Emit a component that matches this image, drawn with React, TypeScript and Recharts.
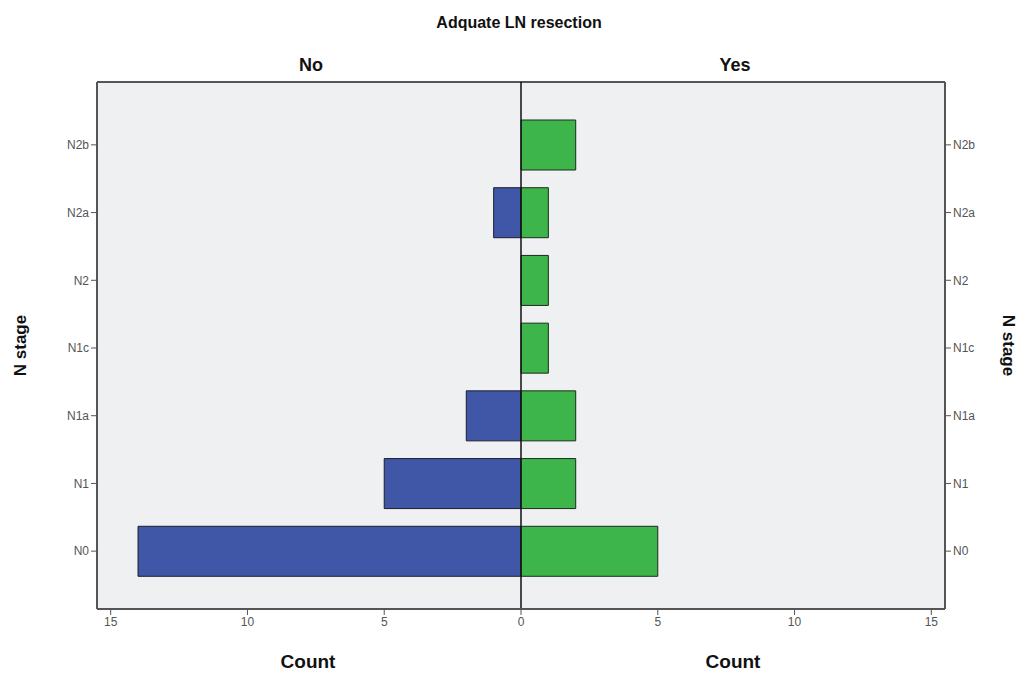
import { BarChart, Bar, XAxis, YAxis, CartesianGrid, ReferenceLine, Label } from "recharts";

const stages = ["N2b", "N2a", "N2", "N1c", "N1a", "N1", "N0"];
const countNo = [0, 1, 0, 0, 2, 5, 14];
const countYes = [2, 1, 1, 1, 2, 2, 5];
const xTicks = [-15, -10, -5, 0, 5, 10, 15];

const data = stages.map((stage, i) => ({
  stage,
  no: -countNo[i],
  yes: countYes[i],
}));

const FONT = "'Liberation Sans', Arial, sans-serif";

const headStyle = (x: number, y: number, size: number): React.CSSProperties => ({
  position: "absolute",
  left: x,
  top: y,
  transform: "translate(-50%, -50%)",
  fontFamily: FONT,
  fontWeight: "bold",
  fontSize: size,
  color: "#111",
  whiteSpace: "nowrap",
});

export default function App() {
  const axisStroke = "#555";
  const tick = { fill: "#555", fontSize: 12, fontFamily: FONT };

  return (
    <div style={{ position: "relative", width: 1013, height: 665 }}>
      <div style={headStyle(511, 15, 16)}>Adquate LN resection</div>
      <div style={headStyle(303, 57, 18)}>No</div>
      <div style={headStyle(727, 57, 18)}>Yes</div>
      <div style={headStyle(300, 654, 19)}>Count</div>
      <div style={headStyle(725, 654, 19)}>Count</div>
      <BarChart
        width={1013}
        height={657}
        data={data}
        layout="vertical"
        stackOffset="sign"
        margin={{ top: 74, right: 8, bottom: 26, left: 8 }}
        style={{ position: "absolute", left: 0, top: 0 }}
      >
        <CartesianGrid
          vertical={false}
          fill="#eff0f1"
          stroke={axisStroke}
          strokeWidth={2}
          horizontalCoordinatesGenerator={({ offset }: any) => [offset.top]}
        />
        <XAxis
          type="number"
          domain={[-15.5, 15.5]}
          ticks={xTicks}
          allowDataOverflow
          tickFormatter={(v: number) => String(Math.abs(v))}
          tick={tick}
          tickSize={6}
          height={30}
          axisLine={{ stroke: axisStroke, strokeWidth: 2 }}
          tickLine={{ stroke: axisStroke }}
        />
        <YAxis
          yAxisId="left"
          type="category"
          dataKey="stage"
          width={81}
          padding={{ top: 29, bottom: 24 }}
          tick={tick}
          tickSize={6}
          axisLine={{ stroke: axisStroke, strokeWidth: 2 }}
          tickLine={{ stroke: axisStroke }}
        >
          <Label
            value="N stage"
            angle={-90}
            position="insideLeft"
            offset={4}
            style={{ fontFamily: FONT, fontWeight: "bold", fontSize: 17, fill: "#111", textAnchor: "middle" }}
          />
        </YAxis>
        <YAxis
          yAxisId="right"
          orientation="right"
          type="category"
          dataKey="stage"
          width={68}
          padding={{ top: 29, bottom: 24 }}
          tick={tick}
          tickSize={6}
          axisLine={{ stroke: axisStroke, strokeWidth: 2 }}
          tickLine={{ stroke: axisStroke }}
        >
          <Label
            value="N stage"
            angle={90}
            position="insideRight"
            offset={4}
            style={{ fontFamily: FONT, fontWeight: "bold", fontSize: 17, fill: "#111", textAnchor: "middle" }}
          />
        </YAxis>
        <Bar
          yAxisId="left"
          dataKey="no"
          stackId="n"
          barSize={50}
          fill="#3f57a6"
          stroke="#1c1c2a"
          strokeWidth={1}
          isAnimationActive={false}
        />
        <Bar
          yAxisId="left"
          dataKey="yes"
          stackId="n"
          barSize={50}
          fill="#3db54a"
          stroke="#1c2a1c"
          strokeWidth={1}
          isAnimationActive={false}
        />
        <ReferenceLine yAxisId="left" x={0} stroke="#111" strokeWidth={1.5} />
      </BarChart>
    </div>
  );
}
